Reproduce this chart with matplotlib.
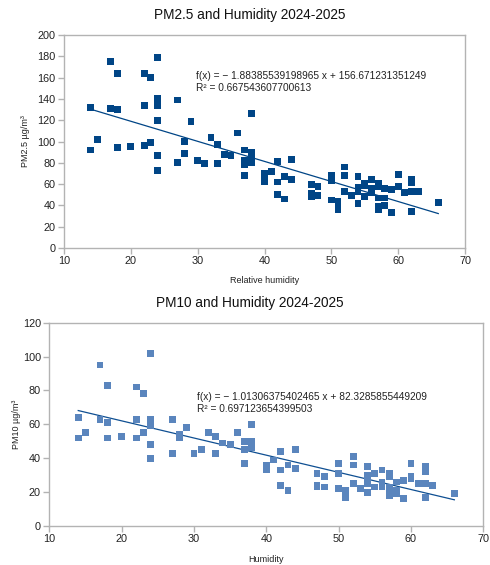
import matplotlib
matplotlib.use("Agg")
import matplotlib.pyplot as plt
import numpy as np

plt.rcParams['font.family'] = ['Liberation Sans', 'DejaVu Sans']

# ---- PM2.5 data ----
hum_pm25 = [14, 14, 15, 17, 17, 18, 18, 18, 20, 22, 22, 22, 23, 23, 24, 24, 24, 24, 24, 24,
            27, 27, 28, 28, 29, 30, 31, 32, 33, 33, 34, 35, 36, 37, 37, 37, 37, 38, 38, 38,
            38, 40, 40, 40, 41, 42, 42, 42, 43, 43, 44, 44, 47, 47, 47, 48, 48, 50, 50, 50,
            51, 51, 51, 52, 52, 52, 53, 54, 54, 54, 54, 55, 55, 55, 56, 56, 56, 57, 57, 57,
            57, 57, 58, 58, 58, 59, 59, 60, 60, 61, 62, 62, 62, 62, 63, 66]
pm25 = [132, 92, 102, 175, 131, 164, 130, 94, 95, 164, 134, 96, 160, 99, 179, 140, 134, 120, 87, 73,
        139, 80, 100, 89, 119, 82, 79, 104, 97, 79, 88, 87, 108, 92, 82, 78, 68, 126, 90, 86,
        80, 70, 66, 62, 72, 81, 62, 50, 67, 46, 83, 64, 60, 51, 48, 58, 49, 68, 63, 45,
        44, 40, 36, 76, 68, 53, 49, 67, 57, 53, 42, 61, 59, 48, 64, 56, 52, 61, 58, 47,
        39, 36, 56, 47, 40, 55, 33, 69, 58, 52, 64, 61, 53, 34, 53, 43]
slope_pm25 = -1.88385539198965
icpt_pm25 = 156.671231351249
r2_pm25 = "0.667543607700613"
eq_pm25 = "f(x) = \u2212 1.88385539198965 x + 156.671231351249"

# ---- PM10 data ----
hum_pm10 = [14, 14, 15, 17, 17, 18, 18, 18, 20, 22, 22, 22, 23, 23, 24, 24, 24, 24, 24,
            27, 27, 28, 28, 29, 30, 31, 32, 33, 33, 34, 35, 36, 37, 37, 37, 38, 38, 38, 38,
            40, 40, 40, 41, 42, 42, 42, 43, 43, 44, 44, 47, 47, 47, 48, 48, 50, 50, 50,
            51, 51, 51, 52, 52, 52, 53, 54, 54, 54, 54, 54, 55, 55, 56, 56, 56, 57, 57, 57,
            57, 57, 58, 58, 58, 59, 59, 60, 60, 60, 61, 62, 62, 62, 62, 62, 63, 66]
pm10 = [64, 52, 55, 95, 63, 83, 61, 52, 53, 82, 63, 52, 78, 55, 102, 63, 59, 48, 40,
        63, 43, 54, 52, 58, 43, 45, 55, 53, 43, 49, 48, 55, 50, 45, 37, 60, 50, 48, 46,
        36, 34, 33, 39, 44, 33, 24, 36, 21, 45, 34, 31, 24, 23, 29, 23, 37, 31, 22,
        21, 19, 17, 41, 36, 25, 22, 35, 30, 28, 25, 20, 31, 23, 33, 26, 23, 31, 29, 23,
        21, 18, 26, 21, 19, 27, 16, 37, 29, 28, 25, 35, 33, 32, 25, 17, 24, 19]
slope_pm10 = -1.01306375402465
icpt_pm10 = 82.3285855449209
r2_pm10 = "0.697123654399503"
eq_pm10 = "f(x) = \u2212 1.01306375402465 x + 82.3285855449209"

W, H = 490, 565
fig = plt.figure(figsize=(W / 100, H / 100), dpi=100)
fig.patch.set_facecolor('white')

frame_col = '#b3b3b3'


def style_axes(ax):
    for s in ax.spines.values():
        s.set_color(frame_col)
        s.set_linewidth(1.0)
    ax.tick_params(axis='both', colors=frame_col, labelcolor='#222222',
                   labelsize=7.8, length=4, width=1, direction='out', pad=2)


# ---- Top chart ----
ax1 = fig.add_axes([64 / W, 1 - 248 / H, 401 / W, 213 / H])
ax1.scatter(hum_pm25, pm25, marker='s', s=24, color='#004586', edgecolors='none', zorder=3)
xs = np.array([min(hum_pm25), max(hum_pm25)])
ax1.plot(xs, slope_pm25 * xs + icpt_pm25, color='#004586', lw=0.9, zorder=2)
ax1.set_xlim(10, 70)
ax1.set_ylim(0, 200)
ax1.set_xticks(range(10, 71, 10))
ax1.set_yticks(range(0, 201, 20))
style_axes(ax1)
ax1.text(29.8, 156, eq_pm25 + "\nR\u00b2 = " + r2_pm25, fontsize=7.3, color='#222222',
         va='center', ha='left', linespacing=1.25)
ax1.set_xlabel("Relative humidity", fontsize=6.5, color='#222222', labelpad=7)
ax1.set_ylabel("PM2.5 \u00b5g/m\u00b3", fontsize=6.5, color='#222222', labelpad=5)
fig.text(250 / W, 1 - 15 / H, "PM2.5 and Humidity 2024-2025", fontsize=9.8,
         ha='center', va='center', color='#111111')

# ---- Bottom chart ----
ax2 = fig.add_axes([49.3 / W, 1 - 526 / H, 434 / W, 203.3 / H])
ax2.scatter(hum_pm10, pm10, marker='s', s=24, color='#5a85bd', edgecolors='none', zorder=3)
xs2 = np.array([min(hum_pm10), max(hum_pm10)])
ax2.plot(xs2, slope_pm10 * xs2 + icpt_pm10, color='#0f4f92', lw=0.9, zorder=2)
ax2.set_xlim(10, 70)
ax2.set_ylim(0, 120)
ax2.set_xticks(range(10, 71, 10))
ax2.set_yticks(range(0, 121, 20))
style_axes(ax2)
ax2.text(30.4, 72.6, eq_pm10 + "\nR\u00b2 = " + r2_pm10, fontsize=7.3, color='#222222',
         va='center', ha='left', linespacing=1.25)
ax2.set_xlabel("Humidity", fontsize=6.5, color='#222222', labelpad=8)
ax2.set_ylabel("PM10 \u00b5g/m\u00b3", fontsize=6.5, color='#222222', labelpad=1)
fig.text(250 / W, 1 - 303 / H, "PM10 and Humidity 2024-2025", fontsize=9.8,
         ha='center', va='center', color='#111111')

fig.savefig("out.png", dpi=100, facecolor='white')
